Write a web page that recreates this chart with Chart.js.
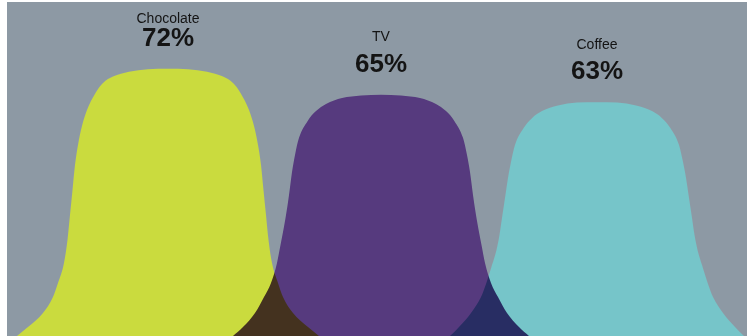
<!DOCTYPE html>
<html lang="en">
<head>
    <meta charset="UTF-8">
    <title>Bells</title>
    <script src="https://cdn.jsdelivr.net/npm/chart.js@4.4.0/dist/chart.umd.min.js"></script>
    <style>
        * { margin: 0; padding: 0; box-sizing: border-box; }
        body { background: #fff; width: 747px; height: 336px; overflow: hidden; }
        canvas { display: block; }
    </style>
</head>
<body>
    <canvas id="bells" width="747" height="336"></canvas>

    <script>
        // categories and their values
        const categories = ['Chocolate', 'TV', 'Coffee'];
        const values = [72, 65, 63];
        const colors = ['#cadb3e', '#563a7e', '#76c5c9'];

        // outlines of each bell (x position, height in %)
        const chocolateX = [0.3, 1.0, 2.1, 3.6, 4.6, 5.1, 5.7, 6.05, 6.3, 6.55, 6.8, 7.1, 7.5, 8.0, 8.85, 9.6, 10.6, 12.2, 14.1, 16.1,
                            18.1, 20.0, 21.6, 22.6, 23.35, 24.2, 24.7, 25.1, 25.4, 25.65, 25.9, 26.15, 26.5, 27.1, 27.6, 28.6, 30.1, 31.2, 31.9];
        const chocolateY = [-1.5, 0, 2.4, 6.2, 10.5, 14.3, 19.7, 25.9, 32.6, 39.3, 46.1, 51.5, 56.6, 60.9, 65.5, 68.2, 69.9, 71.2, 71.9, 72,
                            71.9, 71.2, 69.9, 68.2, 65.5, 60.9, 56.6, 51.5, 46.1, 39.3, 32.6, 25.9, 19.7, 14.3, 10.5, 6.2, 2.4, 0, -1.5];

        const tvX = [21.9, 22.6, 23.6, 24.8, 25.7, 26.4, 27.0, 27.35, 27.6, 27.9, 28.2, 28.5, 28.8, 29.2, 30.05, 30.9, 31.9, 33.5, 35.4, 37.4,
                     39.4, 41.3, 42.9, 43.9, 44.75, 45.6, 46.0, 46.3, 46.6, 46.9, 47.2, 47.45, 47.8, 48.4, 49.1, 50.0, 51.2, 52.2, 52.9];
        const tvY = [-1.5, 0, 2.4, 6.2, 10.5, 14.3, 19.7, 24.5, 28.0, 32.6, 38.0, 44.2, 48.8, 53.4, 57.9, 60.6, 62.5, 64.1, 64.8, 65,
                     64.8, 64.1, 62.5, 60.6, 57.9, 53.4, 48.8, 44.2, 38.0, 32.6, 28.0, 24.5, 19.7, 14.3, 10.5, 6.2, 2.4, 0, -1.5];

        const coffeeX = [43.6, 44.3, 45.2, 46.4, 47.4, 47.9, 48.5, 48.95, 49.25, 49.5, 49.8, 50.1, 50.4, 50.8, 51.65, 52.5, 53.5, 55.1, 57.0, 59.0,
                         61.0, 62.9, 64.5, 65.5, 66.35, 67.2, 67.6, 67.9, 68.2, 68.5, 68.75, 69.05, 69.5, 70.1, 70.6, 71.6, 72.8, 73.7, 74.4];
        const coffeeY = [-1.5, 0, 2.4, 6.2, 10.5, 14.0, 19.1, 23.2, 27.2, 31.8, 37.2, 42.6, 46.9, 51.5, 56.0, 58.7, 60.6, 62.1, 62.9, 63,
                         62.9, 62.1, 60.6, 58.7, 56.0, 51.5, 46.9, 42.6, 37.2, 31.8, 27.2, 23.2, 19.1, 14.0, 10.5, 6.2, 2.4, 0, -1.5];

        const outlines = [[chocolateX, chocolateY], [tvX, tvY], [coffeeX, coffeeY]];

        const toPoints = (xs, ys) => xs.map((x, i) => ({ x: x, y: ys[i] }));

        // shapes multiply where they overlap, then the grey goes behind them
        const blendPlugin = {
            id: 'blend',
            beforeDatasetsDraw(chart) {
                chart.ctx.save();
                chart.ctx.globalCompositeOperation = 'multiply';
            },
            afterDatasetsDraw(chart) {
                const ctx = chart.ctx;
                const a = chart.chartArea;
                ctx.restore();
                ctx.save();
                ctx.globalCompositeOperation = 'destination-over';
                ctx.fillStyle = '#8d99a4';
                ctx.fillRect(a.left, a.top, a.right - a.left, a.bottom - a.top);
                ctx.restore();
            }
        };

        // name and percentage above each peak
        const labelPlugin = {
            id: 'peakLabels',
            afterDraw(chart) {
                const ctx = chart.ctx;
                ctx.save();
                ctx.textAlign = 'center';
                ctx.textBaseline = 'middle';
                ctx.fillStyle = '#141414';
                categories.forEach((name, i) => {
                    const peak = outlines[i][1].indexOf(values[i]);
                    const pt = chart.getDatasetMeta(i).data[peak];
                    const pctY = pt.y - 30;
                    const nameY = Math.max(pctY - 27.5, chart.chartArea.top + 17);
                    ctx.font = '14px "Liberation Sans", Arial, sans-serif';
                    ctx.fillText(name, pt.x, nameY);
                    ctx.font = 'bold 26px "Liberation Sans", Arial, sans-serif';
                    ctx.fillText(values[i] + '%', pt.x, pctY);
                });
                ctx.restore();
            }
        };

        new Chart(document.getElementById('bells'), {
            type: 'line',
            data: {
                datasets: categories.map((name, i) => ({
                    label: name,
                    data: toPoints(outlines[i][0], outlines[i][1]),
                    backgroundColor: colors[i],
                    borderWidth: 0,
                    pointRadius: 0,
                    fill: 'start',
                    cubicInterpolationMode: 'monotone'
                }))
            },
            options: {
                responsive: false,
                animation: false,
                devicePixelRatio: 1,
                layout: { padding: { left: 7, top: 2, right: 0, bottom: 0 } },
                scales: {
                    x: { type: 'linear', min: 0, max: 74, display: false },
                    y: { min: 0, max: 90, display: false }
                },
                plugins: {
                    legend: { display: false },
                    tooltip: { enabled: false }
                }
            },
            plugins: [blendPlugin, labelPlugin]
        });
    </script>
</body>
</html>
